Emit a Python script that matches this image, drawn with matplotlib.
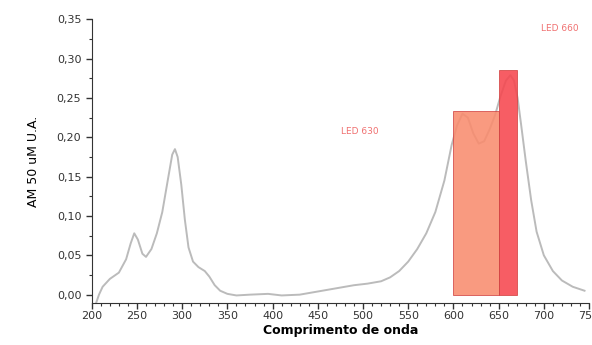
import matplotlib.pyplot as plt
from matplotlib.ticker import MultipleLocator, FuncFormatter

# Spectrum
wavelength = [205, 208, 212, 220, 230, 238, 243, 247, 251, 256, 260, 266, 272, 278, 284, 289, 292, 295,
              299, 303, 307, 312, 318, 325, 330, 336, 342, 350, 360, 375, 395, 410, 430, 450, 470, 490,
              505, 520, 530, 540, 550, 560, 570, 580, 590, 598, 604, 610, 616, 622, 628, 634, 640, 646,
              652, 658, 663, 667, 671, 675, 680, 686, 692, 700, 710, 720, 732, 745]
absorb = [-0.01, 0.0, 0.01, 0.02, 0.028, 0.045, 0.065, 0.078, 0.07, 0.052, 0.048, 0.058, 0.078, 0.105,
          0.145, 0.178, 0.185, 0.175, 0.14, 0.095, 0.06, 0.042, 0.035, 0.03, 0.023, 0.012, 0.005, 0.001,
          -0.001, 0.0, 0.001, -0.001, 0.0, 0.004, 0.008, 0.012, 0.014, 0.017, 0.022, 0.03, 0.042, 0.058,
          0.078, 0.105, 0.145, 0.19, 0.215, 0.23, 0.225, 0.205, 0.192, 0.195, 0.21, 0.228, 0.252, 0.272,
          0.279, 0.272, 0.25, 0.215, 0.17, 0.12, 0.08, 0.05, 0.03, 0.018, 0.01, 0.005]

# LED bands
led_names = ["LED 630", "LED 660"]
led_start = [600, 650]
led_width = [50, 20]
led_height = [0.233, 0.285]
led_colors = ["#F98C6E", "#F6474F"]
label_x = [497, 718]
label_y = [0.207, 0.338]

fig = plt.figure(figsize=(5.92, 3.45), dpi=100)
ax = fig.add_axes([0.155, 0.122, 0.84, 0.822])

ax.plot(wavelength, absorb, color="#BBBBBB", lw=1.4, zorder=2)
ax.bar(led_start, led_height, width=led_width, align="edge", color=led_colors,
       edgecolor="#D04040", linewidth=0.6, alpha=0.88, zorder=3)
for name, x, y in zip(led_names, label_x, label_y):
    ax.text(x, y, name, color="#F07070", fontsize=6.5, ha="center", va="center")

ax.set_xlim(200, 750)
ax.set_ylim(-0.0105, 0.35)
ax.xaxis.set_major_locator(MultipleLocator(50))
ax.xaxis.set_minor_locator(MultipleLocator(10))
ax.yaxis.set_major_locator(MultipleLocator(0.05))
ax.yaxis.set_minor_locator(MultipleLocator(0.025))
ax.yaxis.set_major_formatter(FuncFormatter(lambda v, p: f"{v:.2f}".replace(".", ",")))

ax.spines["top"].set_visible(False)
ax.spines["right"].set_visible(False)
ax.spines["left"].set_color("#333333")
ax.spines["bottom"].set_color("#333333")
ax.tick_params(which="major", length=4, width=1, labelsize=8, colors="#333333")
ax.tick_params(which="minor", length=2, width=0.8, colors="#333333")
ax.tick_params(axis="x", pad=2)

ax.set_xlabel("Comprimento de onda", fontsize=9, fontweight="bold", labelpad=2)
ax.set_ylabel("AM 50 uM U.A.", fontsize=9, labelpad=12)

fig.savefig("out.png", dpi=100)
